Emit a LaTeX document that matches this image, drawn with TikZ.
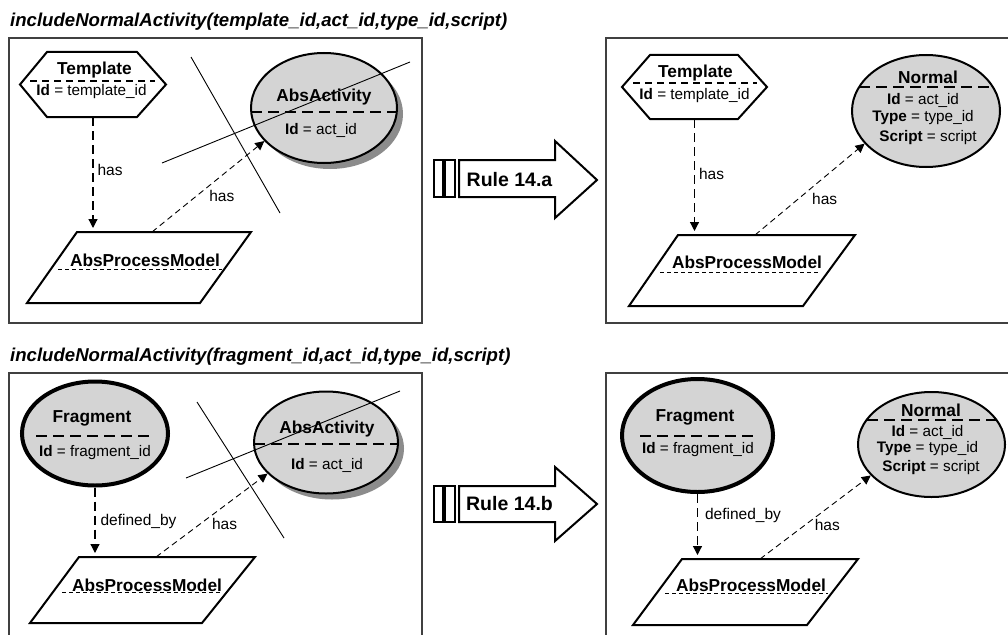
\documentclass[tikz,border=0pt]{standalone}
\usepackage{fontspec}
\setmainfont{Liberation Sans}
\usetikzlibrary{arrows.meta,shapes.geometric,shadows}

\tikzset{
  frame/.style={draw=black!75, line width=1.3pt},
  title/.style={anchor=west, inner sep=0pt, font=\fontsize{18.6}{20}\selectfont\bfseries\itshape},
  outline/.style={draw=black, line width=2pt, line join=miter, fill=white},
  namefont/.style={inner sep=0pt, font=\fontsize{17.3}{19}\selectfont\bfseries},
  attr/.style={inner sep=0pt, font=\fontsize{15.3}{17}\selectfont},
  entity/.style={ellipse, draw=black, line width=2pt, fill=black!17, inner sep=0pt},
  shadowed/.style={drop shadow={shadow xshift=6pt, shadow yshift=-6pt, fill=black!45, opacity=1}},
  slot/.style={rectangle, draw=none, inner sep=0pt, outer sep=0pt},
  sepbig/.style={line width=1.4pt, dash pattern=on 11pt off 6pt},
  sepsmall/.style={line width=1.2pt, dash pattern=on 7pt off 5pt},
  septhin/.style={line width=1pt, dash pattern=on 4pt off 3pt},
  strike/.style={line width=0.9pt},
  linkv/.style={line width=1.2pt, dash pattern=on 9pt off 5pt, -{Triangle[length=9pt,width=9pt]}, shorten >=4pt},
  linkd/.style={line width=0.9pt, dash pattern=on 6pt off 4pt, -{Triangle[length=9pt,width=9pt]}},
  edgelabel/.style={font=\fontsize{15.5}{17}\selectfont, inner sep=0pt, anchor=west},
  rulebar/.style={draw=black, line width=1.5pt},
  rulearrow/.style={draw=black, line width=2pt, line join=miter, fill=white},
  rulefont/.style={font=\fontsize{19.5}{21}\selectfont\bfseries, inner sep=0pt},
}

\begin{document}
\begin{tikzpicture}[x=1pt,y=-1pt]
\useasboundingbox (0,0) rectangle (1008,634);
\clip (0,0) rectangle (1008,634);
\fill[white] (0,0) rectangle (1008,634);

% ---------- titles and frames ----------
\node[title] (titleA) at (10,22) {includeNormalActivity(template\_id,act\_id,type\_id,script)};
\node[title] (titleB) at (10,357) {includeNormalActivity(fragment\_id,act\_id,type\_id,script)};

\draw[frame] (9,38) rectangle (422,323);
\draw[frame] (606,38) rectangle (1015,323);
\draw[frame] (9,373) rectangle (422,640);
\draw[frame] (606,373) rectangle (1015,640);

% ---------- rule 14.a: left side ----------
\node[slot, minimum width=146, minimum height=65] (tplA) at (93,84.5) {};
\draw[outline] ([xshift=27pt]tplA.north west) -- ([xshift=-29pt]tplA.north east) -- (tplA.east)
  -- ([xshift=-29pt]tplA.south east) -- ([xshift=27pt]tplA.south west) -- (tplA.west) -- cycle;
\node[namefont] (tplAname) at (94.5,70) {Template};
\draw[sepsmall] (30,81) -- (155,81);
\node[attr] (tplAid) at (91.5,92) {\textbf{Id} = template\_id};

\node[entity, shadowed, minimum width=146, minimum height=110] (absA) at (324,108) {};
\node[namefont] (absAname) at (324,97) {AbsActivity};
\draw[sepbig] (251,112) -- (397,112);
\node[attr] (absAid) at (321,130) {\textbf{Id} = act\_id};

\node[slot, minimum width=224, minimum height=71] (apmA) at (139,267.5) {};
\draw[outline] ([xshift=50pt]apmA.north west) -- (apmA.north east)
  -- ([xshift=-51pt]apmA.south east) -- (apmA.south west) -- cycle;
\node[namefont] (apmAname) at (145,260) {AbsProcessModel};
\draw[septhin] (58,269) -- (222,269);

\draw[strike] (191,57) -- (280,213);
\draw[strike] (162,163) -- (410,62);

\draw[linkv] (tplA.south) -- (tplA.south |- apmA.north)
  node[edgelabel, pos=0.46, xshift=4pt] (hasA1) {has};
\draw[linkd] ([xshift=13pt]apmA.north) -- (absA.209)
  node[edgelabel, pos=0.40, xshift=12pt] (hasA2) {has};

% ---------- rule 14.a arrow ----------
\draw[rulearrow] (459,160) -- (555,160) -- (555,141) -- (597,180) -- (555,218) -- (555,197) -- (459,197) -- cycle;
\draw[rulebar] (434,160) rectangle (443,197);
\draw[rulebar] (445,160) rectangle (455,197);
\node[rulefont] (ruleA) at (509.5,180) {Rule 14.a};

% ---------- rule 14.a: right side ----------
\node[slot, minimum width=145, minimum height=64] (tplB) at (694.5,87) {};
\draw[outline] ([xshift=28pt]tplB.north west) -- ([xshift=-29pt]tplB.north east) -- (tplB.east)
  -- ([xshift=-29pt]tplB.south east) -- ([xshift=28pt]tplB.south west) -- (tplB.west) -- cycle;
\node[namefont] (tplBname) at (695.5,73) {Template};
\draw[sepsmall] (633,83) -- (757,83);
\node[attr] (tplBid) at (694.5,96) {\textbf{Id} = template\_id};

\node[entity, minimum width=148, minimum height=112] (normB) at (926,111) {};
\node[namefont] (normBname) at (928,77) {Normal};
\draw[sepbig] (859,87) -- (993,87);
\node[attr] (normBid) at (923,100) {\textbf{Id} = act\_id};
\node[attr] (normBtype) at (923,118) {\textbf{Type} = type\_id};
\node[attr] (normBscript) at (928,138) {\textbf{Script} = script};

\node[slot, minimum width=226, minimum height=71] (apmB) at (742,270.5) {};
\draw[outline] ([xshift=49pt]apmB.north west) -- (apmB.north east)
  -- ([xshift=-52pt]apmB.south east) -- (apmB.south west) -- cycle;
\node[namefont] (apmBname) at (747,262) {AbsProcessModel};
\draw[septhin] (660,272) -- (820,272);

\draw[linkv] (tplB.south) -- (tplB.south |- apmB.north)
  node[edgelabel, pos=0.47, xshift=4pt] (hasB1) {has};
\draw[linkd] ([xshift=13pt]apmB.north) -- (normB.208)
  node[edgelabel, pos=0.39, xshift=14pt] (hasB2) {has};

% ---------- rule 14.b: left side ----------
\node[entity, line width=4pt, minimum width=146, minimum height=104] (fragC) at (95,433.5) {};
\node[namefont] (fragCname) at (92,418) {Fragment};
\draw[sepbig] (36,436) -- (150,436);
\node[attr] (fragCid) at (95,453) {\textbf{Id} = fragment\_id};

\node[entity, shadowed, minimum width=144, minimum height=102] (absC) at (326,442.5) {};
\node[namefont] (absCname) at (327,429) {AbsActivity};
\draw[sepbig] (254,444) -- (398,444);
\node[attr] (absCid) at (327,465) {\textbf{Id} = act\_id};

\node[slot, minimum width=225, minimum height=66] (apmC) at (142.5,590) {};
\draw[outline] ([xshift=49pt]apmC.north west) -- (apmC.north east)
  -- ([xshift=-53pt]apmC.south east) -- (apmC.south west) -- cycle;
\node[namefont] (apmCname) at (147,585) {AbsProcessModel};
\draw[septhin] (62,592) -- (222,592);

\draw[strike] (197,402) -- (284,538);
\draw[strike] (186,478) -- (400,391);

\draw[linkv] (fragC.south) -- (fragC.south |- apmC.north)
  node[edgelabel, pos=0.49, xshift=5pt] (defC) {defined\_by};
\draw[linkd] ([xshift=13.5pt]apmC.north) -- (absC.208)
  node[edgelabel, pos=0.40, xshift=11pt] (hasC) {has};

% ---------- rule 14.b arrow ----------
\draw[rulearrow] (459,486) -- (555,486) -- (555,467) -- (597,504) -- (555,541) -- (555,522) -- (459,522) -- cycle;
\draw[rulebar] (434,486) rectangle (443,522);
\draw[rulebar] (445,486) rectangle (455,522);
\node[rulefont] (ruleB) at (509.5,504) {Rule 14.b};

% ---------- rule 14.b: right side ----------
\node[entity, line width=4pt, minimum width=151, minimum height=113] (fragD) at (697.5,435.5) {};
\node[namefont] (fragDname) at (695,417) {Fragment};
\draw[sepbig] (640,436) -- (753,436);
\node[attr] (fragDid) at (698,450) {\textbf{Id} = fragment\_id};

\node[entity, minimum width=147, minimum height=105] (normD) at (931.5,444.5) {};
\node[namefont] (normDname) at (931,410) {Normal};
\draw[sepbig] (867,420) -- (996,420);
\node[attr] (normDid) at (927.5,432) {\textbf{Id} = act\_id};
\node[attr] (normDtype) at (927.5,449) {\textbf{Type} = type\_id};
\node[attr] (normDscript) at (931,468) {\textbf{Script} = script};

\node[slot, minimum width=225, minimum height=66] (apmD) at (745.5,592) {};
\draw[outline] ([xshift=49pt]apmD.north west) -- (apmD.north east)
  -- ([xshift=-51pt]apmD.south east) -- (apmD.south west) -- cycle;
\node[namefont] (apmDname) at (751,585) {AbsProcessModel};
\draw[septhin] (665,593) -- (828,593);

\draw[linkv] (fragD.south) -- (fragD.south |- apmD.north)
  node[edgelabel, pos=0.33, xshift=7pt] (defD) {defined\_by};
\draw[linkd] ([xshift=14.5pt]apmD.north) -- (normD.207)
  node[edgelabel, pos=0.41, xshift=9pt] (hasD) {has};
\end{tikzpicture}
\end{document}
